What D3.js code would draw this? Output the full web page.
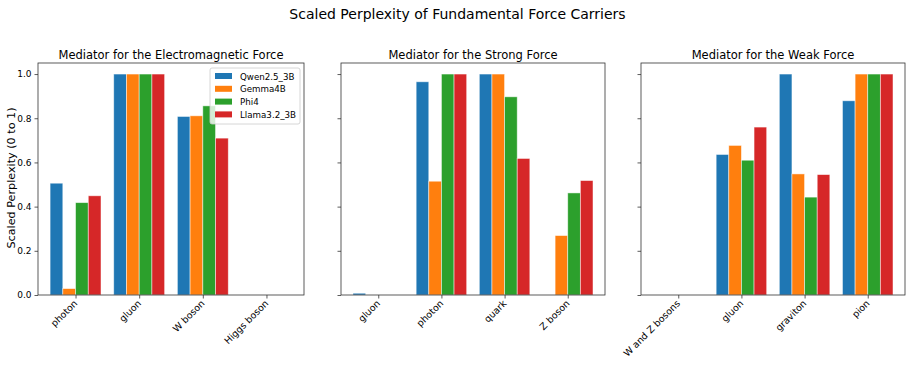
<!DOCTYPE html>
<html><head><meta charset="utf-8">
<script src="https://cdn.jsdelivr.net/npm/d3@7"></script>
<style>body{margin:0;background:#fff}svg{display:block;font-family:"DejaVu Sans",sans-serif}</style>
</head><body><svg id="c" width="915" height="366"></svg>
<script>
const models = ["Qwen2.5_3B","Gemma4B","Phi4","Llama3.2_3B"];
const colors = ["#1f77b4","#ff7f0e","#2ca02c","#d62728"];
const panelTitles = ["Mediator for the Electromagnetic Force","Mediator for the Strong Force","Mediator for the Weak Force"];
const emCategories = ["photon","gluon","W boson","Higgs boson"];
const strongCategories = ["gluon","photon","quark","Z boson"];
const weakCategories = ["W and Z bosons","gluon","graviton","pion"];
// values per model, ordered by category
const emValues = [
  [0.506,1.0,0.808,0],
  [0.029,1.0,0.811,0],
  [0.418,1.0,0.856,0],
  [0.449,1.0,0.710,0]
];
const strongValues = [
  [0.008,0.965,1.0,0],
  [0,0.515,1.0,0.269],
  [0,1.0,0.897,0.462],
  [0,1.0,0.618,0.518]
];
const weakValues = [
  [0,0.636,1.0,0.879],
  [0,0.677,0.548,1.0],
  [0,0.610,0.443,1.0],
  [0,0.760,0.545,1.0]
];
const yTicks = [0,0.2,0.4,0.6,0.8,1.0];

(function(){
const svg = d3.select("#c");
svg.append("text").attr("x",457.5).attr("y",19).attr("text-anchor","middle")
  .attr("font-size",14).text("Scaled Perplexity of Fundamental Force Carriers");

const panels = [
  {left:38,right:304,cats:emCategories,vals:emValues},
  {left:341,right:605,cats:strongCategories,vals:strongValues},
  {left:641,right:905,cats:weakCategories,vals:weakValues}
];
const plotTop=63, plotBottom=295;
const y = d3.scaleLinear().domain([0,1.05]).range([plotBottom,plotTop]);

panels.forEach((p,pi)=>{
  const g = svg.append("g");
  const x = d3.scaleLinear().domain([-0.59,3.59]).range([p.left,p.right]);
  const bw = 0.2;
  models.forEach((m,mi)=>{
    g.append("g").selectAll("rect").data(p.vals[mi]).join("rect")
      .attr("x",(d,ci)=>x(ci+(mi-1.5)*bw-bw/2))
      .attr("width",x(bw)-x(0))
      .attr("y",d=>y(d))
      .attr("height",d=>y(0)-y(d))
      .attr("fill",colors[mi])
      .attr("stroke","#fff").attr("stroke-opacity",0.6).attr("stroke-width",0.8);
  });
  const ya = d3.axisLeft(y).tickValues(yTicks).tickSize(3.5).tickSizeOuter(0)
    .tickFormat(pi===0?d3.format(".1f"):()=> "");
  const yg = g.append("g").attr("transform",`translate(${p.left},0)`).call(ya);
  yg.select(".domain").remove();
  yg.selectAll("text").attr("font-size",9).attr("font-family","DejaVu Sans").attr("fill","#000");
  yg.selectAll("line").attr("stroke","#333").attr("stroke-width",0.8);
  const xa = d3.axisBottom(x).tickValues([0,1,2,3]).tickSize(3.5).tickSizeOuter(0)
    .tickFormat(i=>p.cats[i]);
  const xg = g.append("g").attr("transform",`translate(0,${plotBottom})`).call(xa);
  xg.select(".domain").remove();
  xg.selectAll("line").attr("stroke","#333").attr("stroke-width",0.8);
  xg.selectAll("text").attr("font-size",9.4).attr("font-family","DejaVu Sans").attr("fill","#000")
    .attr("text-anchor","end").attr("dy",null).attr("y",0)
    .attr("transform","translate(2,9) rotate(-45)");
  g.append("rect").attr("x",p.left).attr("y",plotTop).attr("width",p.right-p.left).attr("height",plotBottom-plotTop)
    .attr("fill","none").attr("stroke","#333").attr("stroke-width",0.8);
  g.append("text").attr("x",(p.left+p.right)/2).attr("y",plotTop-4).attr("text-anchor","middle")
    .attr("font-size",11.5).text(panelTitles[pi]);
});

svg.append("text").attr("transform","translate(15,178) rotate(-90)").attr("text-anchor","middle")
  .attr("font-size",11.2).text("Scaled Perplexity (0 to 1)");

const lg = svg.append("g").attr("transform","translate(210,68)");
lg.append("rect").attr("width",90).attr("height",56).attr("rx",2)
  .attr("fill","#fff").attr("fill-opacity",0.8).attr("stroke","#ccc").attr("stroke-width",0.8);
models.forEach((m,i)=>{
  const row = lg.append("g").attr("transform",`translate(5,${8+i*12.8})`);
  row.append("rect").attr("x",0).attr("y",-3).attr("width",17).attr("height",6).attr("fill",colors[i]);
  row.append("text").attr("x",25).attr("y",3.5).attr("font-size",8.7).text(m);
});
})();
</script></body></html>
